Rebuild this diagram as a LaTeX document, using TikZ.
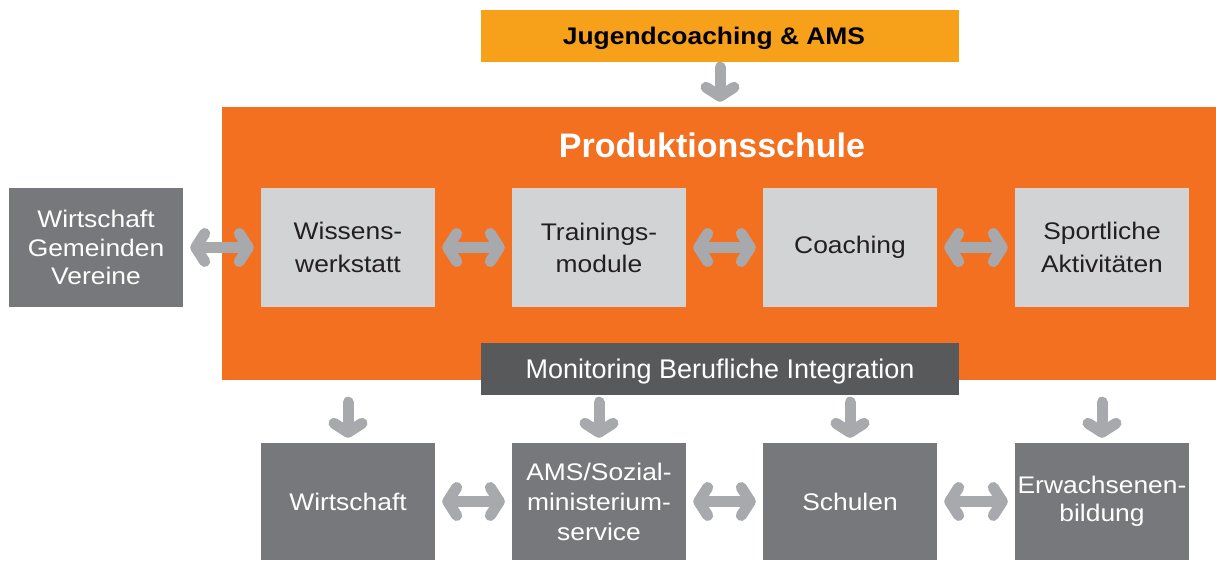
\documentclass[tikz,border=0pt]{standalone}
\usepackage{fontspec}
\setmainfont{Liberation Sans}
\newfontfamily\boxfont[FakeStretch=1.1]{Liberation Sans}
\usetikzlibrary{arrows.meta}
\definecolor{orangeA}{HTML}{F7A11A}
\definecolor{orangeB}{HTML}{F37021}
\definecolor{lightbox}{HTML}{D1D3D4}
\definecolor{darkbox}{HTML}{77787B}
\definecolor{monbox}{HTML}{58595B}
\definecolor{arrowgray}{HTML}{A7A9AC}
\definecolor{txtdark}{HTML}{231F20}
\tikzset{
  ls/.style={font=\boxfont\fontsize{24}{#1}\selectfont},
  box/.style={rectangle, inner sep=0pt, minimum width=174pt, align=center, ls=30},
  lbox/.style={box, fill=lightbox, text=txtdark, minimum height=119pt},
  dbox/.style={box, fill=darkbox, text=white, minimum height=119pt},
  bbox/.style={box, fill=darkbox, text=white, minimum height=117pt},
  wide/.style={rectangle, inner sep=0pt, minimum width=478pt, minimum height=52pt, text depth=0pt},
  tipb/.tip={Straight Barb[round,length=9pt,width=28pt]},
  dbl/.style={draw=arrowgray, line width=11pt, line cap=round, tipb-tipb,
    shorten <=7pt, shorten >=7pt},
  sgl/.style={draw=arrowgray, line width=11pt, line cap=round, -tipb},
}
\begin{document}
\begin{tikzpicture}[x=1pt,y=-1pt]
\useasboundingbox (0,0) rectangle (1216,561);
% main frame
\node[rectangle, fill=orangeB, inner sep=0pt, minimum width=994pt, minimum height=273pt] (prod) at (719,243.5) {};
\node[text=white, font=\fontsize{34}{40}\selectfont\bfseries] (title) at (712,145) {Produktionsschule};
\node[wide, fill=orangeA, text=black, font=\boxfont\fontsize{24}{30}\selectfont\bfseries] (jug) at (720,36) {\hspace*{-12pt}Jugendcoaching \& AMS};
\node[wide, fill=monbox, text=white, font=\fontsize{27}{30}\selectfont] (mon) at (720,369) {Monitoring Berufliche Integration};
% left box
\node[dbox, ls=28.5] (ext) at (96,247.5) {Wirtschaft\\Gemeinden\\Vereine};
% inner boxes
\node[lbox, ls=33] (w) at (348,247.5) {Wissens-\\werkstatt};
\node[lbox, ls=32] (t) at (599,247.5) {Trainings-\\module};
\node[lbox] (c) at (850,247.5) {Coaching};
\node[lbox, ls=33] (s) at (1102,247.5) {Sportliche\\Aktivitäten};
% bottom boxes
\node[bbox] (b1) at (348,501.5) {Wirtschaft};
\node[bbox, ls=30] (b2) at (599,501.5) {AMS/Sozial-\\ministerium-\\service};
\node[bbox] (b3) at (850,501.5) {Schulen};
\node[bbox, ls=27.5] (b4) at (1102,501.5) {Erwachsenen-\\bildung};
% arrows
\draw[sgl, shorten <=5pt, shorten >=5pt] (jug.south) -- (jug.south |- prod.north);
\draw[dbl] (ext) -- (w);
\draw[dbl] (w) -- (t);
\draw[dbl] (t) -- (c);
\draw[dbl] (c) -- (s);
\draw[dbl] (b1) -- (b2);
\draw[dbl] (b2) -- (b3);
\draw[dbl] (b3) -- (b4);
\foreach \b in {b1,b2,b3,b4}
  \draw[sgl, shorten <=22pt, shorten >=5pt] (\b.north |- prod.south) -- (\b.north);
\end{tikzpicture}
\end{document}
